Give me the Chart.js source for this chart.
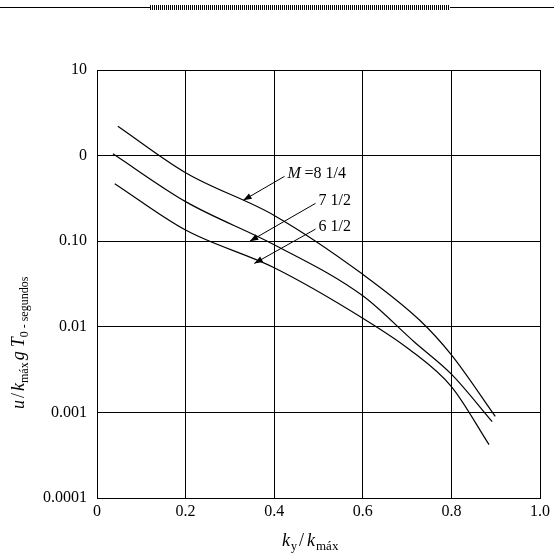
<!DOCTYPE html>
<html><head><meta charset="utf-8">
<script src="https://cdn.jsdelivr.net/npm/chart.js@4/dist/chart.umd.min.js"></script>
<style>body{margin:0;background:#fff}#w{position:relative;width:554px;height:556px}
#tl{position:absolute;left:0;top:7px;width:554px;height:1px;background:#000}
#hl{position:absolute;left:150px;top:5px;width:300px;height:5px;background:repeating-linear-gradient(90deg,#000 0 1px,#fff 1px 2px)}</style>
</head><body><div id="w"><div id="tl"></div><div id="hl"></div><canvas id="c" width="554" height="556"></canvas></div>
<script>
const xTicks=[0,0.2,0.4,0.6,0.8,1.0];
const xTickLabels=["0","0.2","0.4","0.6","0.8","1.0"];
const yTicks=[0.0001,0.001,0.01,0.1,1,10];
const yTickLabels=["0.0001","0.001","0.01","0.10","0","10"];
const m825x=[0.047,0.2,0.4,0.6,0.728,0.8,0.899];
const m825y=[2.2,0.63,0.2,0.041,0.012,0.0047,0.0009];
const m75x=[0.036,0.2,0.4,0.6,0.717,0.8,0.892];
const m75y=[1.05,0.29,0.091,0.023,0.0066,0.0028,0.00078];
const m65x=[0.04,0.2,0.4,0.6,0.706,0.8,0.885];
const m65y=[0.47,0.135,0.049,0.0126,0.0054,0.002,0.00042];
const labels=[{t:"M =8 1/4",x:0.43,y:0.62,ax:0.33,ay:0.3},{t:"7 1/2",x:0.5,y:0.3,ax:0.345,ay:0.1},{t:"6 1/2",x:0.5,y:0.15,ax:0.355,ay:0.055}];
const pts=(xs,ys)=>xs.map((x,i)=>({x,y:ys[i]}));
const F="'Liberation Serif',serif";
const ds=(d)=>({data:d,borderColor:'#000',borderWidth:1.2,pointRadius:0,cubicInterpolationMode:'monotone',fill:false});
const ann={id:'ann',afterDraw(ch){const c=ch.ctx,xs=ch.scales.x,ys=ch.scales.y;c.save();c.fillStyle='#000';c.strokeStyle='#000';c.lineWidth=1;
labels.forEach(l=>{const px=xs.getPixelForValue(l.x),py=ys.getPixelForValue(l.y),ax=xs.getPixelForValue(l.ax),ay=ys.getPixelForValue(l.ay);
if(l.t.startsWith("M")){c.font="italic 16px "+F;c.fillText("M",px,py+5);c.font="16px "+F;c.fillText(" =8 1/4",px+13,py+5);}else{c.font="16px "+F;c.fillText(l.t,px,py+5);}
const sx=px-3,sy=py+3;c.beginPath();c.moveTo(sx,sy);c.lineTo(ax,ay);c.stroke();
const a=Math.atan2(ay-sy,ax-sx),L=9;c.beginPath();c.moveTo(ax,ay);c.lineTo(ax-L*Math.cos(a-0.35),ay-L*Math.sin(a-0.35));c.lineTo(ax-L*Math.cos(a+0.35),ay-L*Math.sin(a+0.35));c.closePath();c.fill();});
c.font="italic 18px "+F;c.textAlign='left';let x0=282,y0=546;c.fillText("k",x0,y0);c.font="12px "+F;c.fillText("y",x0+9,y0+4);c.font="18px "+F;c.fillText("/",x0+17,y0);c.font="italic 18px "+F;c.fillText("k",x0+25,y0);c.font="13px "+F;c.fillText("máx",x0+34,y0+4);
c.translate(24,284);c.rotate(-Math.PI/2);let x=-125;
const seg=(t,f,dy)=>{c.font=f;c.fillText(t,x,dy);x+=c.measureText(t).width;};
seg("u","italic 18px "+F,0);x+=2;seg("/","18px "+F,0);x+=2;seg("k","italic 18px "+F,0);seg("máx","12px "+F,4);x+=2;seg("g","italic 18px "+F,0);x+=4;seg("T","italic 18px "+F,0);seg("0 - segundos","12px "+F,4);
c.restore();}};
new Chart(document.getElementById('c'),{type:'line',data:{datasets:[ds(pts(m825x,m825y)),ds(pts(m75x,m75y)),ds(pts(m65x,m65y))]},
options:{responsive:false,animation:false,layout:{padding:{left:0,right:13,top:70,bottom:0}},plugins:{legend:{display:false},tooltip:{enabled:false}},
scales:{x:{type:'linear',min:0,max:1,afterBuildTicks:s=>{s.ticks=xTicks.map(v=>({value:v}))},afterFit:s=>{s.height=58},
ticks:{color:'#000',font:{family:F,size:16},callback:(v,i)=>xTickLabels[i],maxRotation:0,padding:4},grid:{color:'#000',lineWidth:1,drawTicks:false},border:{color:'#000'}},
y:{type:'logarithmic',min:0.0001,max:10,afterBuildTicks:s=>{s.ticks=yTicks.map(v=>({value:v}))},afterFit:s=>{s.width=97},
ticks:{color:'#000',font:{family:F,size:16},callback:(v,i)=>yTickLabels[i],padding:10},grid:{color:'#000',lineWidth:1,drawTicks:false},border:{color:'#000'}}}},plugins:[ann]});
</script></body></html>
